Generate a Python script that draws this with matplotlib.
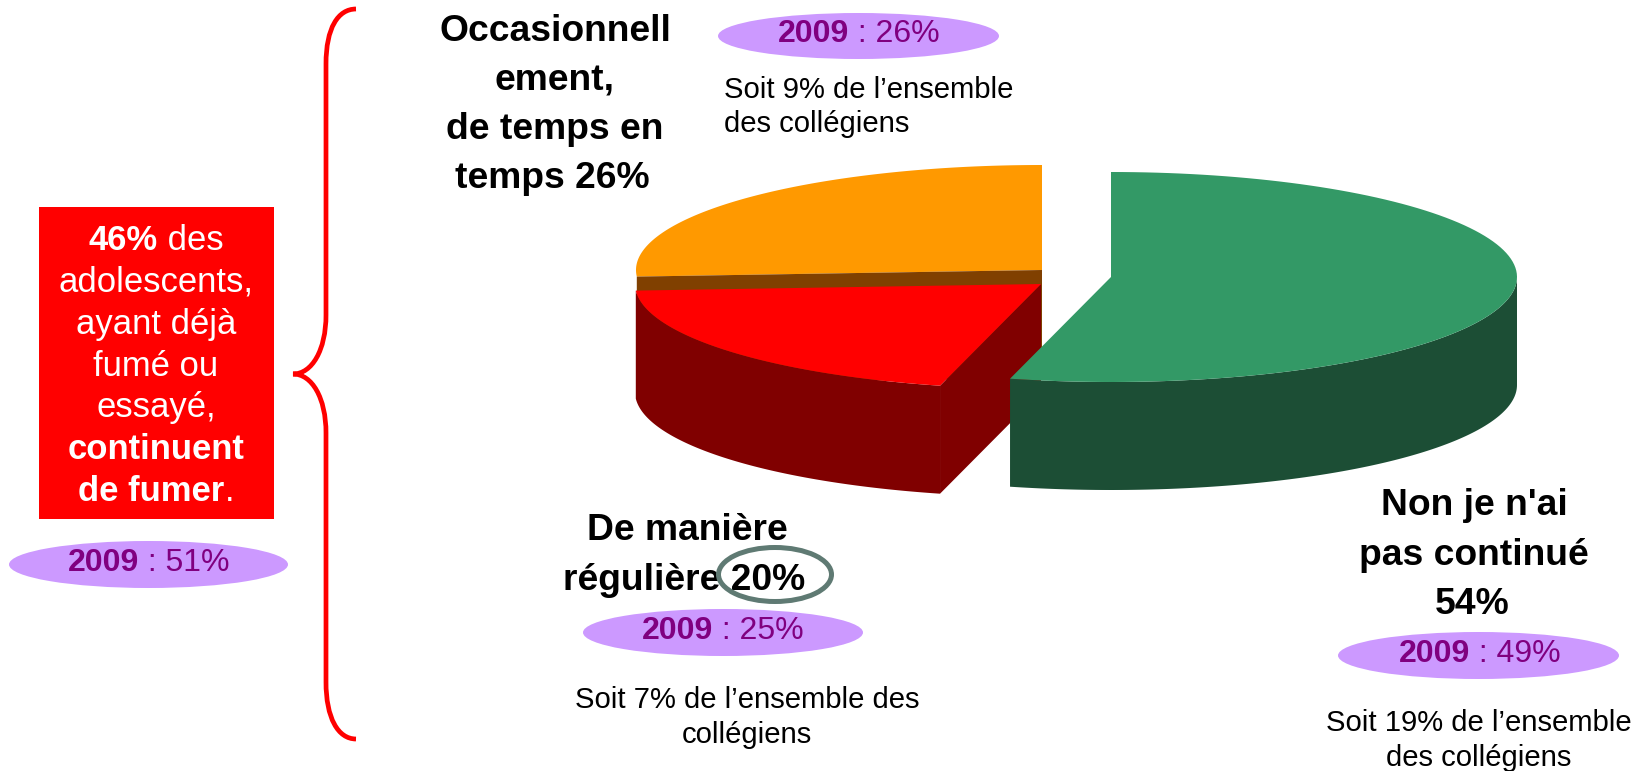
import numpy as np
import matplotlib
matplotlib.use("Agg")
import matplotlib.pyplot as plt
from matplotlib.patches import Ellipse, Polygon, Rectangle, PathPatch
from matplotlib.path import Path

# Data
categories = ["Non je n'ai\npas continué", "De manière\nrégulière", "Occasionnell\nement,\nde temps en\ntemps"]
values = [54, 20, 26]
values_2009 = [49, 25, 26]
share_all = [19, 7, 9]
total_continue = 46
total_continue_2009 = 51

plt.rcParams['font.family'] = ['Liberation Sans', 'DejaVu Sans']
W, H = 1642, 771
fig = plt.figure(figsize=(W / 100, H / 100), dpi=100)
ax = fig.add_axes([0, 0, 1, 1])
ax.set_xlim(0, W)
ax.set_ylim(H, 0)
ax.axis('off')

# Pie geometry (3D look): one centre per exploded slice
A, B, DEPTH = 406, 105, 108
centres = [(1111, 277), (1041, 284), (1042, 270)]
tops = ['#339966', '#FF0000', '#FF9900']
walls = ['#1C4E35', '#800000', '#804000']

def arc(c, a0, a1, n=120):
    t = np.radians(np.linspace(a0, a1, n))
    return np.column_stack([c[0] + A * np.cos(t), c[1] + B * np.sin(t)])

# angles: measured clockwise on screen, from the top of the pie
edges = -90 + 3.6 * np.cumsum([0] + values)
spans = list(zip(edges[:-1], edges[1:]))

def top_face(i, z):
    c = centres[i]
    pts = np.vstack([[c], arc(c, *spans[i])])
    ax.add_patch(Polygon(pts, closed=True, fc=tops[i], ec='none', zorder=z))

def wall(i, a0, a1, z):
    p = arc(centres[i], a0, a1)
    ax.add_patch(Polygon(np.vstack([p, p[::-1] + [0, DEPTH]]), closed=True,
                         fc=walls[i], ec='none', zorder=z))

def side(i, a, z):
    c = np.array(centres[i], float)
    e = arc(c, a, a, 1)[0]
    ax.add_patch(Polygon([c, e, e + [0, DEPTH], c + [0, DEPTH]], closed=True,
                         fc=walls[i], ec='none', zorder=z))

# orange
top_face(2, 1)
side(2, spans[2][0], 1.5)
# red
side(1, spans[1][0], 2)
wall(1, spans[1][0], spans[1][1], 2.1)
top_face(1, 2.2)
# green
wall(0, 0, spans[0][1], 3)
top_face(0, 3.2)

# Text helper: runs of (text, bold) on one line
def run_width(s, bold, size):
    r = fig.canvas.get_renderer()
    w = 'bold' if bold else 'normal'
    t1 = ax.text(0, 0, 'x' + s + 'x', fontsize=size, fontweight=w)
    t2 = ax.text(0, 0, 'xx', fontsize=size, fontweight=w)
    d = t1.get_window_extent(r).width - t2.get_window_extent(r).width
    t1.remove(); t2.remove()
    return d

def line(x, y, runs, size, color='black', align='center', z=10):
    widths = [run_width(s, b, size) for s, b in runs]
    cur = x - sum(widths) / 2 if align == 'center' else x
    for (s, b), w in zip(runs, widths):
        ax.text(cur, y, s, fontsize=size, fontweight='bold' if b else 'normal',
                color=color, ha='left', va='baseline', zorder=z)
        cur += w

HEAD, BODY, OVAL, SMALL = 26.8, 24.9, 23.0, 21.1

def oval(x0, x1, y0, y1, tx, ty, val):
    ax.add_patch(Ellipse(((x0 + x1) / 2, (y0 + y1) / 2), x1 - x0, y1 - y0,
                         fc='#CC99FF', ec='none', zorder=5))
    line(tx, ty, [('2009', True), (f' : {val}%', False)], OVAL, color='#800080')

# Occasional
for x, y, s in zip([555, 555, 555, 552], [41, 90, 139, 188],
                   ['Occasionnell', 'ement,', 'de temps en', f'temps {values[2]}%']):
    line(x, y, [(s, True)], HEAD)
oval(718, 999, 13, 59, 859, 42, values_2009[2])
line(724, 98, [(f"Soit {share_all[2]}% de l’ensemble", False)], SMALL, align='left')
line(724, 132, [("des collégiens", False)], SMALL, align='left')

# Regular
line(687, 540, [('De manière', True)], HEAD)
line(684, 590, [(f'régulière {values[1]}%', True)], HEAD)
ax.add_patch(Ellipse((775, 574.5), 113, 54, fc='none', ec='#5F7A73', lw=3.6, zorder=11))
oval(583, 863, 609, 656, 723, 639, values_2009[1])
line(747, 708, [(f"Soit {share_all[1]}% de l’ensemble des", False)], SMALL)
line(747, 743, [("collégiens", False)], SMALL)

# Stopped
line(1474, 515, [("Non je n'ai", True)], HEAD)
line(1474, 565, [("pas continué", True)], HEAD)
line(1472, 614, [(f"{values[0]}%", True)], HEAD)
oval(1338, 1619, 632, 679, 1480, 662, values_2009[0])
line(1479, 731, [(f"Soit {share_all[0]}% de l’ensemble", False)], SMALL)
line(1479, 766, [("des collégiens", False)], SMALL)

# Red box
ax.add_patch(Rectangle((39, 207), 235, 312, fc='#FF0000', ec='none', zorder=5))
box_lines = [[(f'{total_continue}%', True), (' des', False)], [('adolescents,', False)],
             [('ayant déjà', False)], [('fumé ou', False)], [('essayé,', False)],
             [('continuent', True)], [('de fumer', True), ('.', False)]]
for y, runs in zip([250, 292, 334, 376, 417, 459, 501], box_lines):
    line(156, y, runs, BODY, color='white')
oval(9, 288, 541, 588, 149, 571, total_continue_2009)

# Brace
verts = [(356, 9), (338, 9), (326, 28), (326, 64), (326, 315), (326, 350), (312, 374), (293, 374),
         (312, 374), (326, 398), (326, 433), (326, 682), (326, 718), (338, 739), (356, 739)]
codes = [Path.MOVETO] + [Path.CURVE4] * 3 + [Path.LINETO] + [Path.CURVE4] * 3 + [Path.CURVE4] * 3 + [Path.LINETO] + [Path.CURVE4] * 3
ax.add_patch(PathPatch(Path(verts, codes), fc='none', ec='#FF0000', lw=3.4, capstyle='butt', zorder=6))

fig.savefig('out.png', dpi=100)
